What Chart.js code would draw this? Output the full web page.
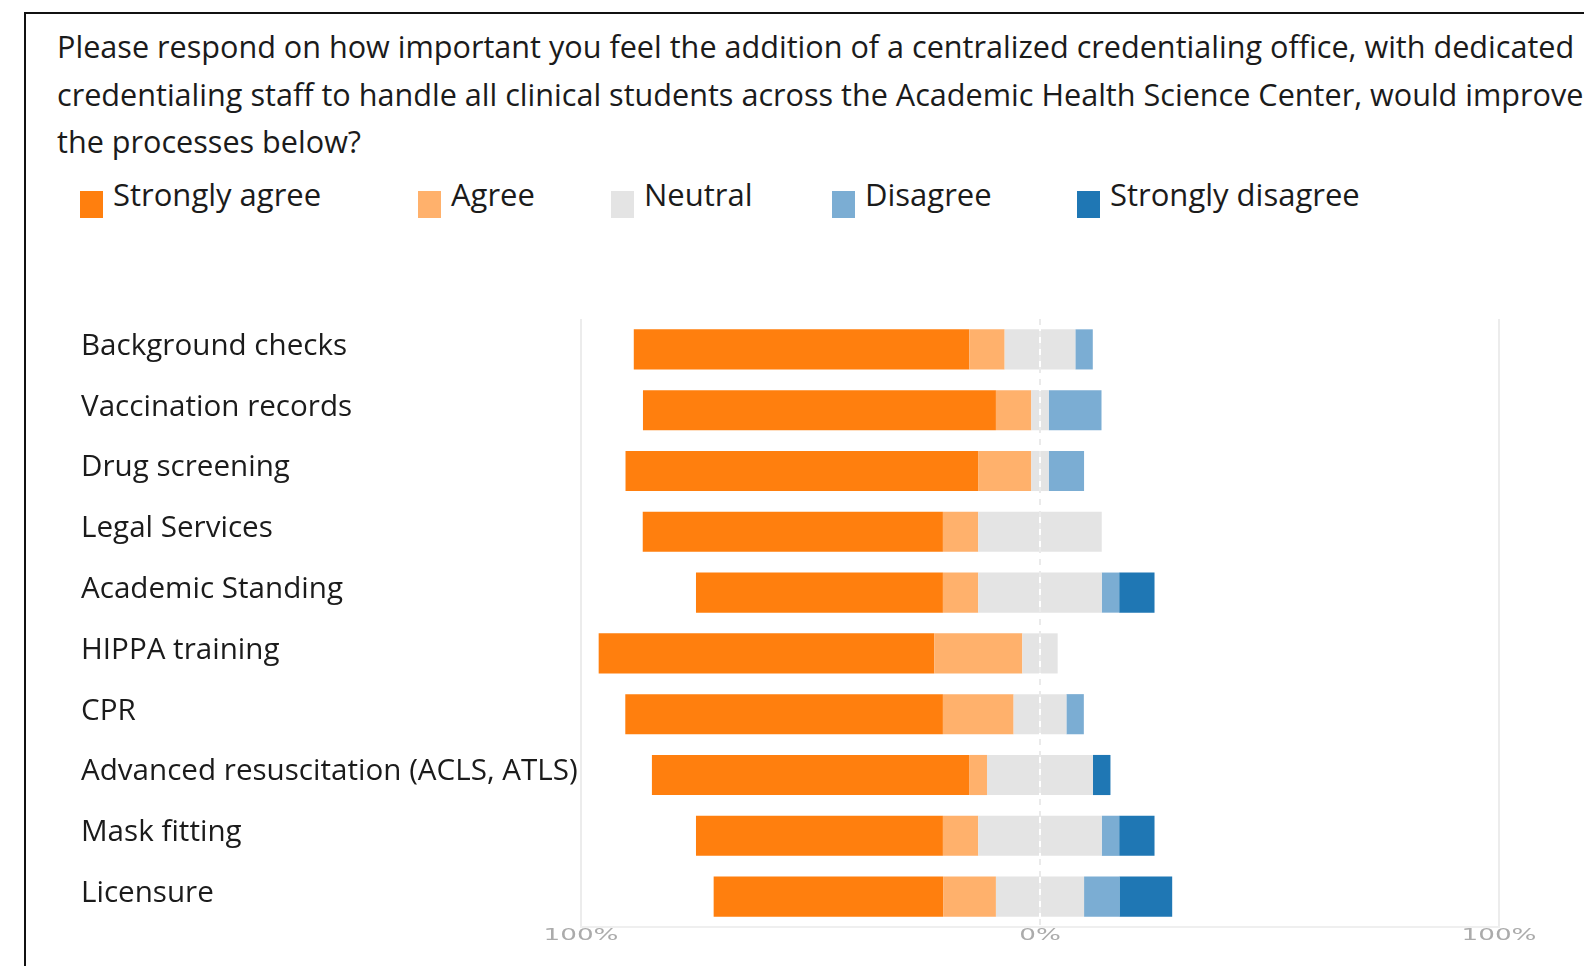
<!DOCTYPE html>
<html>
<head>
<meta charset="utf-8">
<script src="https://cdn.jsdelivr.net/npm/chart.js@4.4.1/dist/chart.umd.min.js"></script>
<style>
  html, body { margin: 0; padding: 0; background: #fff; }
  body { width: 1584px; height: 966px; overflow: hidden; position: relative; font-family: "Open Sans", Lato, sans-serif; color: #1b1b1b; }
  .frame { position: absolute; left: 24px; top: 12px; width: 1600px; height: 1000px; border-left: 2px solid #111; border-top: 2px solid #111; }
  .title { position: absolute; left: 57px; top: 23px; font-size: 30.6px; line-height: 47.5px; white-space: nowrap; }
  .legend-item { position: absolute; top: 173px; height: 40px; font-size: 31px; white-space: nowrap; }
  .legend-item .sw { position: absolute; left: 0; top: 18px; width: 23px; height: 27px; }
  .legend-item .lb { position: absolute; top: 0; }
  .chart-box { position: absolute; left: 81px; top: 300px; width: 1503px; height: 666px; }
</style>
</head>
<body>
<div class="frame"></div>
<div class="title">
  Please respond on how important you feel the addition of a centralized credentialing office, with dedicated<br>
  credentialing staff to handle all clinical students across the Academic Health Science Center, would improve<br>
  the processes below?
</div>
<div id="legend"></div>
<div class="chart-box"><canvas id="chart-likert"></canvas></div>

<script>
// categories (top to bottom)
const categories = [
  'Background checks',
  'Vaccination records',
  'Drug screening',
  'Legal Services',
  'Academic Standing',
  'HIPPA training',
  'CPR',
  'Advanced resuscitation (ACLS, ATLS)',
  'Mask fitting',
  'Licensure',
];

// share of responses, %
const stronglyAgree    = [73.1, 76.9, 76.9, 65.4, 53.8, 73.1, 69.2, 69.2, 53.8, 50.0];
const agree            = [7.7, 7.7, 11.5, 7.7, 7.7, 19.2, 15.4, 3.8, 7.7, 11.5];
const neutral          = [15.4, 3.8, 3.8, 26.9, 26.9, 7.7, 11.5, 23.1, 26.9, 19.2];
const disagree         = [3.8, 11.5, 7.7, 0, 3.8, 0, 3.8, 0, 3.8, 7.7];
const stronglyDisagree = [0, 0, 0, 0, 7.7, 0, 0, 3.8, 7.7, 11.5];

const tickValues = [-100, 0, 100];

const legendNames = ['Strongly agree', 'Agree', 'Neutral', 'Disagree', 'Strongly disagree'];
const colors = ['#ff7f0e', '#ffb16c', '#e4e4e4', '#7badd3', '#1f77b4'];
const legendX = [80, 418, 611, 832, 1077];

// legend (html, wide spacing like the original)
const legendEl = document.getElementById('legend');
legendEl.innerHTML = legendNames.map((name, i) => `
  <div class="legend-item" style="left:${legendX[i]}px">
    <span class="sw" style="background:${colors[i]}"></span>
    <span class="lb" style="left:33px">${name}</span>
  </div>`).join('');

// diverging stack: agree side negative, neutral split around 0
const datasets = [
  { label: 'Neutral (left)', data: neutral.map((v) => -v / 2), backgroundColor: colors[2] },
  { label: 'Agree', data: agree.map((v) => -v), backgroundColor: colors[1] },
  { label: 'Strongly agree', data: stronglyAgree.map((v) => -v), backgroundColor: colors[0] },
  { label: 'Neutral (right)', data: neutral.map((v) => v / 2), backgroundColor: colors[2] },
  { label: 'Disagree', data: disagree, backgroundColor: colors[3] },
  { label: 'Strongly disagree', data: stronglyDisagree, backgroundColor: colors[4] },
].map((d) => ({ ...d, barPercentage: 0.66, categoryPercentage: 1, borderWidth: 0 }));

// dashed line at 0% + wide x tick labels
const axisExtras = {
  id: 'axisExtras',
  beforeDatasetsDraw(chart) {
    const { ctx, chartArea, scales } = chart;
    const x = scales.x.getPixelForValue(0);
    ctx.save();
    ctx.strokeStyle = '#d6d6d6';
    ctx.lineWidth = 1;
    ctx.setLineDash([6, 6]);
    ctx.beginPath();
    ctx.moveTo(x, chartArea.top);
    ctx.lineTo(x, chartArea.bottom);
    ctx.stroke();
    ctx.restore();
  },
  afterDraw(chart) {
    const { ctx, chartArea, scales } = chart;
    const sx = 1.75;
    ctx.save();
    ctx.font = '15px "DejaVu Sans"';
    ctx.fillStyle = '#ababab';
    ctx.textAlign = 'center';
    ctx.textBaseline = 'middle';
    scales.x.ticks.forEach((t) => {
      const px = scales.x.getPixelForValue(t.value);
      ctx.save();
      ctx.translate(px, chartArea.bottom + 9);
      ctx.scale(sx, 1);
      ctx.fillText(Math.abs(t.value) + '%', 0, 0);
      ctx.restore();
    });
    ctx.restore();
  },
};

new Chart(document.getElementById('chart-likert'), {
  type: 'bar',
  data: { labels: categories, datasets },
  plugins: [axisExtras],
  options: {
    indexAxis: 'y',
    responsive: true,
    maintainAspectRatio: false,
    animation: false,
    layout: { padding: { top: 19, right: 85, left: 0, bottom: 0 } },
    plugins: { legend: { display: false }, tooltip: { enabled: false } },
    scales: {
      x: {
        stacked: true,
        min: -100,
        max: 100,
        afterBuildTicks: (s) => { s.ticks = tickValues.map((v) => ({ value: v })); },
        afterFit: (s) => { s.height = 39; },
        ticks: { display: false },
        grid: {
          color: (c) => (c.tick && c.tick.value === 0 ? 'rgba(0,0,0,0)' : '#ececec'),
          drawTicks: false,
          lineWidth: 2,
        },
        border: { color: '#efefef', width: 2 },
      },
      y: {
        stacked: true,
        afterFit: (s) => { s.width = 500; },
        grid: { display: false },
        border: { display: false },
        ticks: {
          crossAlign: 'far',
          padding: 0,
          labelOffset: -3,
          color: '#1b1b1b',
          font: { family: 'Open Sans', size: 29.6 },
        },
      },
    },
  },
});
</script>
</body>
</html>
